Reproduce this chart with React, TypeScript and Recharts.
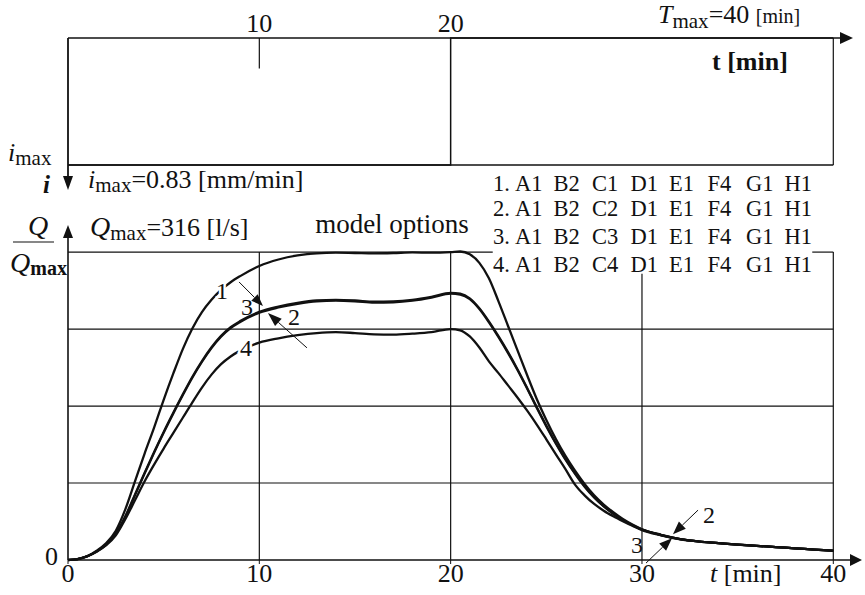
import React from 'react';
import { LineChart, Line, XAxis, YAxis, ReferenceLine, ReferenceDot } from 'recharts';

// time [min]
const T = [
  0, 0.5, 1, 1.5, 2, 2.5, 3, 3.5, 4, 4.5, 5, 5.5, 6, 6.5, 7, 7.5, 8, 8.5, 9,
  10, 11, 12, 13, 14, 15, 16, 17, 18, 19, 20,
  20.5, 21, 21.5, 22, 22.5, 23, 23.5, 24, 24.5, 25, 25.5, 26, 26.5, 27, 27.5, 28, 28.5, 29, 29.5, 30,
  31, 32, 33, 34, 35, 36, 37, 38, 39, 40,
];

// Q/Qmax, model option 1..4
const Q1 = [
  0, 0.003, 0.012, 0.03, 0.055, 0.095, 0.165, 0.255, 0.345, 0.43, 0.52, 0.605, 0.685, 0.752, 0.805, 0.845, 0.877, 0.902, 0.922,
  0.955, 0.976, 0.989, 0.996, 0.998, 0.997, 0.996, 0.997, 0.999, 0.998, 1.0,
  1.002, 0.993, 0.965, 0.915, 0.84, 0.76, 0.68, 0.6, 0.523, 0.455, 0.393, 0.338, 0.29, 0.247, 0.21, 0.18, 0.155, 0.133, 0.115, 0.1,
  0.082, 0.068, 0.06, 0.055, 0.05, 0.046, 0.042, 0.038, 0.034, 0.03,
];
const Q2 = [
  0, 0.003, 0.012, 0.028, 0.05, 0.085, 0.14, 0.21, 0.28, 0.348, 0.413, 0.475, 0.535, 0.592, 0.643, 0.688, 0.725, 0.753, 0.773,
  0.803, 0.82, 0.832, 0.84, 0.842, 0.84, 0.836, 0.837, 0.842, 0.852, 0.865,
  0.862, 0.847, 0.815, 0.772, 0.724, 0.672, 0.616, 0.556, 0.494, 0.434, 0.378, 0.326, 0.28, 0.238, 0.203, 0.174, 0.15, 0.13, 0.113, 0.099,
  0.081, 0.068, 0.06, 0.055, 0.05, 0.046, 0.042, 0.038, 0.034, 0.03,
];
const Q3 = [
  0, 0.003, 0.012, 0.028, 0.051, 0.087, 0.143, 0.213, 0.283, 0.351, 0.416, 0.478, 0.538, 0.595, 0.646, 0.691, 0.728, 0.756, 0.776,
  0.806, 0.823, 0.835, 0.843, 0.845, 0.843, 0.839, 0.84, 0.845, 0.855, 0.868,
  0.865, 0.85, 0.818, 0.775, 0.727, 0.675, 0.619, 0.559, 0.497, 0.437, 0.38, 0.328, 0.282, 0.24, 0.204, 0.175, 0.151, 0.13, 0.113, 0.099,
  0.081, 0.068, 0.06, 0.055, 0.05, 0.046, 0.042, 0.038, 0.034, 0.03,
];
const Q4 = [
  0, 0.003, 0.012, 0.027, 0.048, 0.08, 0.133, 0.194, 0.255, 0.31, 0.362, 0.412, 0.462, 0.512, 0.56, 0.602, 0.636, 0.661, 0.68,
  0.706, 0.72, 0.73, 0.737, 0.74, 0.737, 0.733, 0.732, 0.735, 0.74, 0.75,
  0.746, 0.726, 0.69, 0.645, 0.607, 0.567, 0.527, 0.485, 0.44, 0.392, 0.343, 0.295, 0.245, 0.21, 0.182, 0.16, 0.142, 0.126, 0.111, 0.097,
  0.08, 0.067, 0.06, 0.055, 0.05, 0.046, 0.042, 0.038, 0.034, 0.03,
];

// hyetograph: i_max from 0 to 20 min
const I_MAX = 0.83;
const RAIN_T = [0, 20, 40];
const RAIN_I = [I_MAX, 0, 0];

const X_TICKS = [0, 10, 20, 30, 40];
const TOP_TICKS = [10, 20];
const Q_GRID = [0.25, 0.5, 0.75];
const T_GRID = [10, 20, 40];

const LEGEND_ROWS = [
  ['1.', 'A1', 'B2', 'C1', 'D1', 'E1', 'F4', 'G1', 'H1'],
  ['2.', 'A1', 'B2', 'C2', 'D1', 'E1', 'F4', 'G1', 'H1'],
  ['3.', 'A1', 'B2', 'C3', 'D1', 'E1', 'F4', 'G1', 'H1'],
  ['4.', 'A1', 'B2', 'C4', 'D1', 'E1', 'F4', 'G1', 'H1'],
];

const X_MAX = 41.5;
const Q_TOP = 1.088;
const INK = '#111';
const FONT = '"Liberation Serif", "Times New Roman", serif';

const rows = T.map((t, k) => ({ t, q1: Q1[k], q2: Q2[k], q3: Q3[k], q4: Q4[k] }));
const rain = RAIN_T.map((t, k) => ({ t, i: RAIN_I[k] }));

// line with a filled arrow head at its second end
const arrow = (head: number, half: number, width = 1.3) => (p: any) => {
  const { x1, y1, x2, y2 } = p;
  const dx = x2 - x1;
  const dy = y2 - y1;
  const len = Math.hypot(dx, dy) || 1;
  const ux = dx / len;
  const uy = dy / len;
  const bx = x2 - ux * head;
  const by = y2 - uy * head;
  const pts = `${x2},${y2} ${bx - uy * half},${by + ux * half} ${bx + uy * half},${by - ux * half}`;
  return (
    <g>
      <line x1={x1} y1={y1} x2={bx} y2={by} stroke={INK} strokeWidth={width} />
      <polygon points={pts} fill={INK} />
    </g>
  );
};

const curveLabel = (txt: string, knock = false) => (p: any) => (
  <text
    x={p.cx}
    y={p.cy}
    textAnchor="middle"
    dominantBaseline="central"
    fontSize={24}
    fontFamily={FONT}
    fill={INK}
    stroke={knock ? '#fff' : 'none'}
    strokeWidth={knock ? 5 : 0}
    paintOrder="stroke"
  >
    {txt}
  </text>
);

const gridProps = { stroke: INK, strokeWidth: 1.2, ifOverflow: 'visible' as const };

function TopPanel() {
  return (
    <LineChart width={865} height={200} data={rain} margin={{ top: 8, right: 3, bottom: 35, left: 68 }}>
      <XAxis
        type="number"
        dataKey="t"
        orientation="top"
        domain={[0, X_MAX]}
        ticks={TOP_TICKS}
        height={30}
        axisLine={false}
        tickLine={false}
        tickSize={0}
        tickMargin={6}
        tick={{ fontSize: 26, fill: INK, fontFamily: FONT }}
      />
      <YAxis hide reversed type="number" domain={[0, I_MAX]} />
      <ReferenceLine segment={[{ x: 0, y: I_MAX }, { x: 40, y: I_MAX }]} {...gridProps} strokeWidth={1.5} />
      <ReferenceLine segment={[{ x: 40, y: 0 }, { x: 40, y: I_MAX }]} {...gridProps} />
      <ReferenceLine segment={[{ x: 10, y: 0 }, { x: 10, y: 0.2 }]} {...gridProps} />
      <Line
        type="stepAfter"
        dataKey="i"
        stroke={INK}
        strokeWidth={1.5}
        dot={false}
        activeDot={false}
        isAnimationActive={false}
      />
      <ReferenceLine segment={[{ x: 0, y: 0 }, { x: 41.03, y: 0 }]} ifOverflow="visible" shape={arrow(13, 6, 1.5)} />
      <ReferenceLine segment={[{ x: 0, y: 0 }, { x: 0, y: 0.993 }]} ifOverflow="visible" shape={arrow(14, 5, 1.8)} />
    </LineChart>
  );
}

function BottomPanel() {
  return (
    <LineChart width={865} height={395} data={rows} margin={{ top: 25, right: 3, bottom: 5, left: 8 }}>
      <XAxis
        type="number"
        dataKey="t"
        domain={[0, X_MAX]}
        ticks={X_TICKS}
        height={30}
        axisLine={false}
        tickSize={4}
        tickMargin={0}
        tickLine={{ stroke: INK }}
        tick={{ fontSize: 26, fill: INK, fontFamily: FONT }}
      />
      <YAxis
        type="number"
        domain={[0, Q_TOP]}
        ticks={[0]}
        width={60}
        axisLine={false}
        tickLine={false}
        tick={(p: any) => (
          <text x={p.x - 2} y={p.y} dy={5} textAnchor="end" fontSize={26} fill={INK} fontFamily={FONT}>
            {p.payload.value}
          </text>
        )}
      />
      {Q_GRID.map((q) => (
        <ReferenceLine key={'h' + q} segment={[{ x: 0, y: q }, { x: 40, y: q }]} {...gridProps} />
      ))}
      <ReferenceLine segment={[{ x: 0, y: 1 }, { x: 22.2, y: 1 }]} {...gridProps} />
      <ReferenceLine segment={[{ x: 38.9, y: 1 }, { x: 40, y: 1 }]} {...gridProps} />
      {T_GRID.map((t) => (
        <ReferenceLine key={'v' + t} segment={[{ x: t, y: 0 }, { x: t, y: 1 }]} {...gridProps} />
      ))}
      <ReferenceLine segment={[{ x: 30, y: 0 }, { x: 30, y: 0.93 }]} {...gridProps} />

      <Line type="monotone" dataKey="q1" stroke={INK} strokeWidth={2.3} dot={false} activeDot={false} isAnimationActive={false} />
      <Line type="monotone" dataKey="q2" stroke={INK} strokeWidth={2.2} dot={false} activeDot={false} isAnimationActive={false} />
      <Line type="monotone" dataKey="q3" stroke={INK} strokeWidth={2.2} dot={false} activeDot={false} isAnimationActive={false} />
      <Line type="monotone" dataKey="q4" stroke={INK} strokeWidth={2.3} dot={false} activeDot={false} isAnimationActive={false} />

      <ReferenceLine segment={[{ x: 0, y: 0 }, { x: X_MAX, y: 0 }]} ifOverflow="visible" shape={arrow(12, 6, 1.6)} />
      <ReferenceLine segment={[{ x: 0, y: 0 }, { x: 0, y: Q_TOP }]} ifOverflow="visible" shape={arrow(13, 5, 1.6)} />

      <ReferenceLine segment={[{ x: 8.94, y: 0.903 }, { x: 10.19, y: 0.825 }]} ifOverflow="visible" shape={arrow(12, 4.5, 1)} />
      <ReferenceLine segment={[{ x: 12.49, y: 0.689 }, { x: 10.45, y: 0.802 }]} ifOverflow="visible" shape={arrow(14, 5, 1)} />
      <ReferenceLine segment={[{ x: 32.93, y: 0.162 }, { x: 31.62, y: 0.084 }]} ifOverflow="visible" shape={arrow(13, 5, 1)} />
      <ReferenceLine segment={[{ x: 30.21, y: -0.01 }, { x: 31.57, y: 0.071 }]} ifOverflow="visible" shape={arrow(13, 5, 1)} />

      <ReferenceDot x={8.05} y={0.873} r={0} ifOverflow="visible" shape={curveLabel('1', true)} />
      <ReferenceDot x={9.36} y={0.822} r={0} ifOverflow="visible" shape={curveLabel('3')} />
      <ReferenceDot x={11.81} y={0.789} r={0} ifOverflow="visible" shape={curveLabel('2')} />
      <ReferenceDot x={9.3} y={0.689} r={0} ifOverflow="visible" shape={curveLabel('4', true)} />
      <ReferenceDot x={33.5} y={0.146} r={0} ifOverflow="visible" shape={curveLabel('2')} />
      <ReferenceDot x={29.74} y={0.049} r={0} ifOverflow="visible" shape={curveLabel('3')} />
    </LineChart>
  );
}

function Texts() {
  const tx = { fontFamily: FONT, fill: INK };
  return (
    <svg width={865} height={595} style={{ position: 'absolute', left: 0, top: 0, pointerEvents: 'none' }}>
      <text x={658} y={23} fontSize={26} {...tx}>
        <tspan fontStyle="italic">T</tspan>
        <tspan fontSize={21} dy={5}>max</tspan>
        <tspan dy={-5}>=40 </tspan>
        <tspan fontSize={20}>[min]</tspan>
      </text>
      <text x={712} y={70} fontSize={26} fontWeight="bold" {...tx}>t [min]</text>

      <text x={8} y={161} fontSize={26} {...tx}>
        <tspan fontStyle="italic">i</tspan>
        <tspan fontSize={21} dy={4}>max</tspan>
      </text>
      <text x={43} y={193} fontSize={25} fontStyle="italic" fontWeight="bold" {...tx}>i</text>
      <text x={88} y={188} fontSize={26} {...tx}>
        <tspan fontStyle="italic">i</tspan>
        <tspan fontSize={21} dy={4}>max</tspan>
        <tspan dy={-4}>=0.83 [mm/min]</tspan>
      </text>

      <text x={28} y={235} fontSize={28} fontStyle="italic" {...tx}>Q</text>
      <line x1={13} y1={242} x2={54} y2={242} stroke={INK} strokeWidth={1.2} />
      <text x={10} y={272} fontSize={28} {...tx}>
        <tspan fontStyle="italic">Q</tspan>
        <tspan fontSize={20} fontWeight="bold" dy={3}>max</tspan>
      </text>

      <text x={90} y={236} fontSize={26} {...tx}>
        <tspan fontStyle="italic" fontSize={28}>Q</tspan>
        <tspan fontSize={21} dy={4}>max</tspan>
        <tspan dy={-4}>=316 [l/s]</tspan>
      </text>
      <text x={392} y={233} fontSize={27} textAnchor="middle" {...tx}>model options</text>

      {LEGEND_ROWS.map((row, r) => (
        <g key={r}>
          {row.map((tok, k) => (
            <text
              key={k}
              x={k === 0 ? 493 : 515 + (k - 1) * 38.5}
              y={[191, 216, 244, 272][r]}
              fontSize={22.5}
              {...tx}
            >
              {tok}
            </text>
          ))}
        </g>
      ))}

      <text x={710} y={582} fontSize={26} {...tx}>
        <tspan fontStyle="italic">t</tspan>
        <tspan> [min]</tspan>
      </text>
    </svg>
  );
}

export default function App() {
  return (
    <div style={{ position: 'absolute', left: 0, top: 0, width: 865, height: 595, background: '#fff' }}>
      <div style={{ position: 'absolute', left: 0, top: 0 }}>
        <TopPanel />
      </div>
      <div style={{ position: 'absolute', left: 0, top: 200 }}>
        <BottomPanel />
      </div>
      <Texts />
    </div>
  );
}
